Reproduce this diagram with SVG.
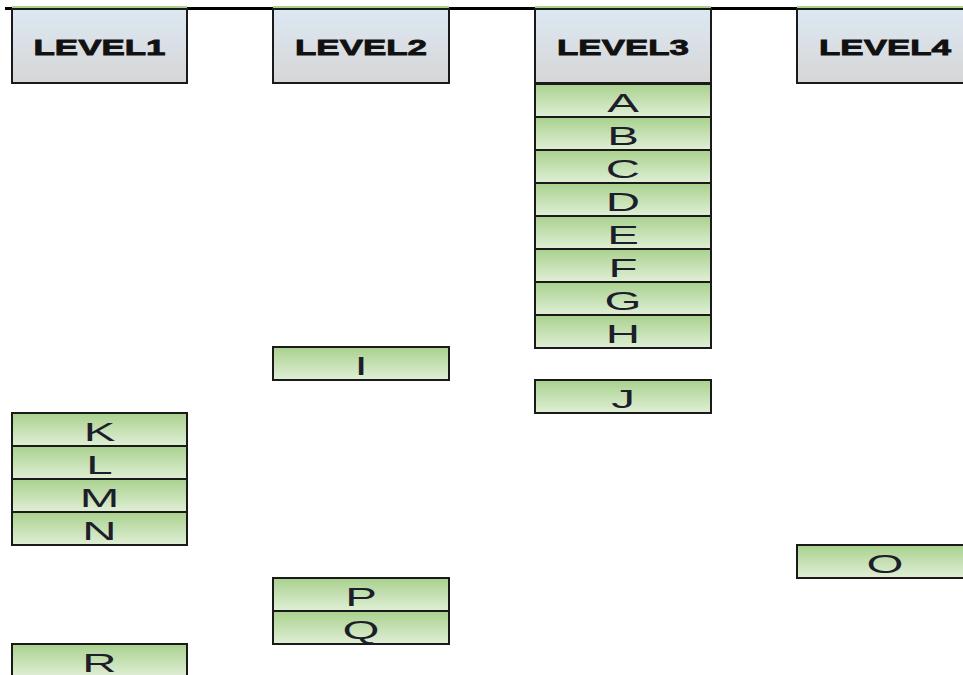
<svg xmlns="http://www.w3.org/2000/svg" width="963" height="675" viewBox="0 0 963 675">
<defs>
<linearGradient id="gh" x1="0" y1="0" x2="0" y2="1">
<stop offset="0" stop-color="#dde8f3"/>
<stop offset="1" stop-color="#d6d6d6"/>
</linearGradient>
<linearGradient id="gg" x1="0" y1="0" x2="0" y2="1">
<stop offset="0" stop-color="#a9d18e"/>
<stop offset="1" stop-color="#e0efd6"/>
</linearGradient>
<style>
.hd{fill:url(#gh);stroke:#1a1a1a;stroke-width:2}
.cl{fill:url(#gg);stroke:#1a1a1a;stroke-width:2}
.ht{font-family:"Liberation Sans",Arial,sans-serif;font-weight:bold;font-size:22px;fill:#111;stroke:#111;stroke-width:0.8;text-anchor:middle}
.lt{font-family:"Liberation Sans",Arial,sans-serif;font-size:25px;fill:#1e1e2a;text-anchor:middle}
</style>
</defs>
<rect width="963" height="675" fill="#ffffff"/>
<line x1="5" y1="8.5" x2="800" y2="8.5" stroke="#000" stroke-width="3"/>
<g id="headers">
<g id="level1"><line x1="12" y1="7" x2="187" y2="7" stroke="#a9d18e" stroke-width="2"/><rect class="hd" x="12" y="9" width="175" height="74"/><text class="ht" x="99.5" y="55" textLength="132" lengthAdjust="spacingAndGlyphs">LEVEL1</text></g>
<g id="level2"><line x1="273" y1="7" x2="449" y2="7" stroke="#a9d18e" stroke-width="2"/><rect class="hd" x="273" y="9" width="176" height="74"/><text class="ht" x="361" y="55" textLength="132" lengthAdjust="spacingAndGlyphs">LEVEL2</text></g>
<g id="level3"><line x1="535" y1="7" x2="711" y2="7" stroke="#a9d18e" stroke-width="2"/><rect class="hd" x="535" y="9" width="176" height="74"/><text class="ht" x="623" y="55" textLength="132" lengthAdjust="spacingAndGlyphs">LEVEL3</text></g>
<g id="level4"><line x1="797" y1="7" x2="973" y2="7" stroke="#a9d18e" stroke-width="2"/><rect class="hd" x="797" y="9" width="176" height="74"/><text class="ht" x="885" y="55" textLength="132" lengthAdjust="spacingAndGlyphs">LEVEL4</text></g>
</g>
<g id="connectors"/>
<g id="cells">
<g id="A"><rect class="cl" x="535" y="84" width="176" height="33"/><text class="lt" transform="translate(623,112) scale(1.9,1)">A</text></g>
<g id="B"><rect class="cl" x="535" y="117" width="176" height="33"/><text class="lt" transform="translate(623,145) scale(1.9,1)">B</text></g>
<g id="C"><rect class="cl" x="535" y="150" width="176" height="33"/><text class="lt" transform="translate(623,178) scale(1.9,1)">C</text></g>
<g id="D"><rect class="cl" x="535" y="183" width="176" height="33"/><text class="lt" transform="translate(623,211) scale(1.9,1)">D</text></g>
<g id="E"><rect class="cl" x="535" y="216" width="176" height="33"/><text class="lt" transform="translate(623,244) scale(1.9,1)">E</text></g>
<g id="F"><rect class="cl" x="535" y="249" width="176" height="33"/><text class="lt" transform="translate(623,277) scale(1.9,1)">F</text></g>
<g id="G"><rect class="cl" x="535" y="282" width="176" height="33"/><text class="lt" transform="translate(623,310) scale(1.9,1)">G</text></g>
<g id="H"><rect class="cl" x="535" y="315" width="176" height="33"/><text class="lt" transform="translate(623,343) scale(1.9,1)">H</text></g>
<g id="I"><rect class="cl" x="273" y="347" width="176" height="33"/><text class="lt" transform="translate(361,375) scale(1.9,1)">I</text></g>
<g id="J"><rect class="cl" x="535" y="380" width="176" height="33"/><text class="lt" transform="translate(623,408) scale(1.9,1)">J</text></g>
<g id="K"><rect class="cl" x="12" y="413" width="175" height="33"/><text class="lt" transform="translate(99.5,441) scale(1.9,1)">K</text></g>
<g id="L"><rect class="cl" x="12" y="446" width="175" height="33"/><text class="lt" transform="translate(99.5,474) scale(1.9,1)">L</text></g>
<g id="M"><rect class="cl" x="12" y="479" width="175" height="33"/><text class="lt" transform="translate(99.5,507) scale(1.9,1)">M</text></g>
<g id="N"><rect class="cl" x="12" y="512" width="175" height="33"/><text class="lt" transform="translate(99.5,540) scale(1.9,1)">N</text></g>
<g id="O"><rect class="cl" x="797" y="545" width="176" height="33"/><text class="lt" transform="translate(885,573) scale(1.9,1)">O</text></g>
<g id="P"><rect class="cl" x="273" y="578" width="176" height="33"/><text class="lt" transform="translate(361,606) scale(1.9,1)">P</text></g>
<g id="Q"><rect class="cl" x="273" y="611" width="176" height="33"/><text class="lt" transform="translate(361,639) scale(1.9,1)">Q</text></g>
<g id="R"><rect class="cl" x="12" y="644" width="175" height="33"/><text class="lt" transform="translate(99.5,672) scale(1.9,1)">R</text></g>
</g>
</svg>
